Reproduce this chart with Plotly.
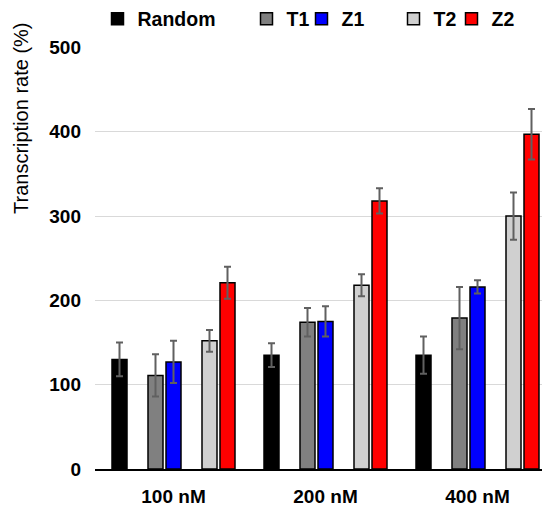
import plotly.graph_objects as go

categories = ["100 nM", "200 nM", "400 nM"]
series_names = ["Random", "T1", "Z1", "T2", "Z2"]
random_vals = [130, 135, 135]
random_err = [20, 14, 22]
t1_vals = [111, 174, 179]
t1_err = [25, 17, 37]
z1_vals = [127, 175, 216]
z1_err = [25, 18, 8]
t2_vals = [152, 218, 300]
t2_err = [13, 13, 28]
z2_vals = [221, 318, 397]
z2_err = [19, 15, 30]
y_ticks = [0, 100, 200, 300, 400, 500]

values = [random_vals, t1_vals, z1_vals, t2_vals, z2_vals]
errors = [random_err, t1_err, z1_err, t2_err, z2_err]
colors = ["#000000", "#808080", "#0000FF", "#D0D0D0", "#FF0000"]
slots = [-3, -1, 0, 2, 3]

W, H = 542, 507
L, R, T, B = 95, 0, 47, 38
px_per_cat = 152.0
slot_w = 18.0 / px_per_cat
bar_w = 15.0 / px_per_cat
x0 = -(173.5 - L) / px_per_cat
x1 = (W - R - 173.5) / px_per_cat

FONT = "Liberation Sans, Arial, sans-serif"
fig = go.Figure()
legend_ids = ["legend", "legend2", "legend3", "legend4", "legend5"]
legend_text_px = [136, 285, 340, 432, 490]

for i, name in enumerate(series_names):
    fig.add_trace(go.Bar(
        x=categories, y=values[i], name=name,
        marker=dict(color=colors[i], line=dict(color="#000000", width=1.5)),
        width=bar_w, offset=slots[i] * slot_w - bar_w / 2,
        error_y=dict(type="data", array=errors[i], color="#606060", thickness=2, width=3.5),
        legend=legend_ids[i],
    ))

layout_legends = {}
for i, lid in enumerate(legend_ids):
    layout_legends[lid] = dict(
        xref="container", yref="container",
        x=(legend_text_px[i] - 38.5) / W, xanchor="left",
        y=1 - 19 / H, yanchor="middle",
        orientation="h", bgcolor="rgba(0,0,0,0)",
        font=dict(family=FONT, size=19.5, color="#000000", weight="bold"),
        itemclick=False,
    )

fig.update_layout(
    width=W, height=H,
    margin=dict(l=L, r=R, t=T, b=B, pad=0, autoexpand=False),
    plot_bgcolor="white", paper_bgcolor="white",
    barmode="overlay",
    showlegend=True,
    **layout_legends,
    xaxis=dict(
        range=[x0, x1], showgrid=False, showline=True, linecolor="#000000", linewidth=2,
        tickfont=dict(family=FONT, size=19, color="#000000", weight="bold"),
        ticks="", ticklabelstandoff=9, automargin=False,
    ),
    yaxis=dict(
        range=[0, 500.5], tickvals=y_ticks, showgrid=True, gridcolor="#D9D9D9", gridwidth=1,
        zeroline=False, showline=False,
        tickfont=dict(family=FONT, size=19, color="#000000", weight="bold"),
        ticks="", ticklabelstandoff=13, automargin=False,
    ),
    annotations=[dict(
        text="Transcription rate (%)", textangle=-90,
        xref="paper", yref="paper",
        x=(21 - L) / (W - L - R), y=(H - B - 118) / (H - T - B),
        xanchor="center", yanchor="middle", showarrow=False,
        font=dict(family=FONT, size=20, color="#000000"),
    )],
)

fig.write_html(
    "out.html",
    config={"displayModeBar": False},
    post_script="document.body.style.margin='0px';document.body.style.overflow='hidden';",
)
